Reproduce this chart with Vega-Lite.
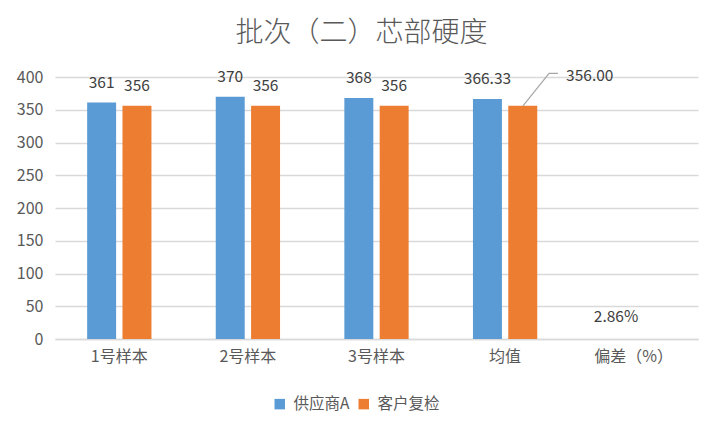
{
  "$schema": "https://vega.github.io/schema/vega-lite/v6.json",
  "width": 643,
  "height": 262,
  "autosize": "none",
  "padding": {"left": 55, "top": 77, "right": 24, "bottom": 95},
  "background": "white",
  "title": {
    "text": "批次（二）芯部硬度",
    "fontSize": 28,
    "font": "Noto Sans CJK SC",
    "fontWeight": 300,
    "color": "#595959",
    "anchor": "middle",
    "dx": -15,
    "offset": 21
  },
  "config": {
    "font": "Noto Sans CJK SC",
    "view": {"stroke": null},
    "axis": {"labelFont": "Noto Sans CJK SC", "labelColor": "#595959", "labelFontSize": 16}
  },
  "datasets": {
    "bars": [
      {"cat": "1号样本", "series": "供应商A", "value": 361, "label": "361"},
      {"cat": "1号样本", "series": "客户复检", "value": 356, "label": "356"},
      {"cat": "2号样本", "series": "供应商A", "value": 370, "label": "370"},
      {"cat": "2号样本", "series": "客户复检", "value": 356, "label": "356"},
      {"cat": "3号样本", "series": "供应商A", "value": 368, "label": "368"},
      {"cat": "3号样本", "series": "客户复检", "value": 356, "label": "356"},
      {"cat": "均值", "series": "供应商A", "value": 366.33, "label": "366.33"},
      {"cat": "均值", "series": "客户复检", "value": 356, "label": "356.00", "lead": true},
      {"cat": "偏差（%）", "series": "供应商A", "value": 2.86, "label": "2.86%", "pct": true}
    ],
    "leader": [
      {"pos": 3.639, "v": 356},
      {"pos": 3.842, "v": 405.6},
      {"pos": 3.911, "v": 405.6}
    ]
  },
  "layer": [
    {
      "data": {"name": "bars"},
      "layer": [
        {
          "transform": [{"filter": "datum.pct != true"}],
          "mark": {"type": "bar"},
          "encoding": {
            "x": {
              "field": "cat", "type": "nominal",
              "sort": ["1号样本", "2号样本", "3号样本", "均值", "偏差（%）"],
              "scale": {"domain": ["1号样本", "2号样本", "3号样本", "均值", "偏差（%）"], "paddingInner": 0.5, "paddingOuter": 0.25},
              "axis": {"title": null, "labelAngle": 0, "ticks": false, "domainColor": "#d9d9d9", "domainWidth": 1.5, "labelPadding": 9}
            },
            "xOffset": {
              "field": "series", "type": "nominal",
              "scale": {"domain": ["供应商A", "客户复检"], "paddingInner": 0.18, "paddingOuter": 0}
            },
            "y": {
              "field": "value", "type": "quantitative",
              "scale": {"domain": [0, 400], "nice": false},
              "axis": {"title": null, "tickCount": 8, "labelOverlap": false, "ticks": false, "domain": false, "gridColor": "#d9d9d9", "gridWidth": 1.5, "labelPadding": 12}
            },
            "color": {
              "field": "series", "type": "nominal",
              "scale": {"domain": ["供应商A", "客户复检"], "range": ["#5B9BD5", "#ED7D31"]},
              "legend": {"title": null, "orient": "none", "legendX": 217, "legendY": 319, "direction": "horizontal", "symbolType": "square", "symbolSize": 110, "symbolStrokeWidth": 0, "labelFontSize": 15.5, "labelColor": "#595959", "labelFont": "Noto Sans CJK SC", "columnPadding": 6, "labelOffset": 6}
            }
          }
        },
        {
          "transform": [{"filter": "datum.lead != true"}],
          "mark": {"type": "text", "baseline": "middle", "dy": -20, "fontSize": 15.5, "color": "#404040"},
          "encoding": {
            "x": {"field": "cat", "type": "nominal", "sort": ["1号样本", "2号样本", "3号样本", "均值", "偏差（%）"]},
            "xOffset": {"field": "series", "type": "nominal"},
            "y": {"field": "value", "type": "quantitative"},
            "text": {"field": "label"}
          }
        },
        {
          "transform": [{"filter": "datum.lead == true"}],
          "mark": {"type": "text", "baseline": "middle", "align": "center", "dy": -30, "dx": 67, "fontSize": 15.5, "color": "#404040"},
          "encoding": {
            "x": {"field": "cat", "type": "nominal", "sort": ["1号样本", "2号样本", "3号样本", "均值", "偏差（%）"]},
            "xOffset": {"field": "series", "type": "nominal"},
            "y": {"field": "value", "type": "quantitative"},
            "text": {"field": "label"}
          }
        }
      ]
    },
    {
      "data": {"name": "leader"},
      "mark": {"type": "line", "color": "#a6a6a6", "strokeWidth": 1.2},
      "encoding": {
        "x": {"field": "pos", "type": "quantitative", "scale": {"domain": [0, 5]}, "axis": null},
        "y": {"field": "v", "type": "quantitative",
          "axis": {"title": null, "tickCount": 8, "labelOverlap": false, "ticks": false, "domain": false, "gridColor": "#d9d9d9", "gridWidth": 1.5, "labelPadding": 12}}
      }
    }
  ],
  "resolve": {"scale": {"x": "independent"}}
}
